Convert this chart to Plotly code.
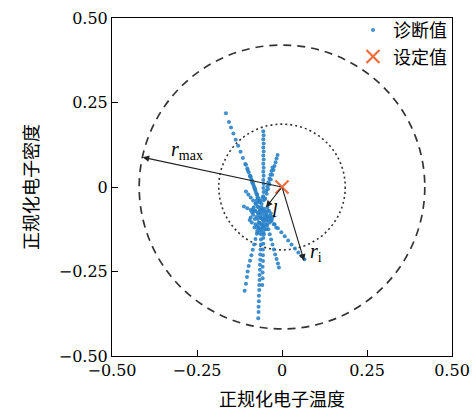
import plotly.graph_objects as go

# ---- data ----
ray_ul_x = [-0.165, -0.156, -0.150, -0.143, -0.136, -0.129, -0.122, -0.115, -0.108, -0.101, -0.094, -0.087, -0.080, -0.073, -0.067]
ray_ul_y = [0.218, 0.192, 0.176, 0.158, 0.140, 0.122, 0.104, 0.086, 0.068, 0.050, 0.032, 0.014, -0.004, -0.022, -0.040]

ray_up_x = [-0.055, -0.054, -0.055, -0.054, -0.055, -0.054, -0.055, -0.054, -0.055, -0.054, -0.055, -0.054, -0.055, -0.054, -0.055, -0.054, -0.055, -0.054]
ray_up_y = [0.165, 0.153, 0.141, 0.129, 0.117, 0.105, 0.093, 0.081, 0.069, 0.057, 0.045, 0.033, 0.021, 0.009, -0.003, -0.015, -0.027, -0.039]

ray_ur1_x = [-0.013, -0.016, -0.019, -0.022, -0.025, -0.029, -0.033, -0.037, -0.041, -0.045]
ray_ur1_y = [0.095, 0.084, 0.073, 0.062, 0.050, 0.036, 0.022, 0.008, -0.006, -0.020]

ray_ur2_x = [-0.028, -0.031, -0.034, -0.037, -0.040, -0.043, -0.046]
ray_ur2_y = [0.058, 0.047, 0.036, 0.025, 0.014, 0.002, -0.010]

ray_ul2_x = [-0.106, -0.102, -0.098, -0.094, -0.090, -0.086, -0.082, -0.078, -0.074, -0.070, -0.066]
ray_ul2_y = [0.066, 0.055, 0.044, 0.033, 0.022, 0.011, 0.000, -0.011, -0.022, -0.033, -0.044]

ray_ul3_x = [-0.092, -0.088, -0.084, -0.080, -0.076, -0.072, -0.068]
ray_ul3_y = [0.030, 0.018, 0.006, -0.006, -0.018, -0.030, -0.042]

ray_l_x = [-0.106, -0.099, -0.092, -0.085, -0.078, -0.071, -0.064]
ray_l_y = [-0.013, -0.022, -0.031, -0.040, -0.049, -0.058, -0.067]

ray_l2_x = [-0.112, -0.102, -0.092, -0.082, -0.072]
ray_l2_y = [-0.058, -0.063, -0.068, -0.072, -0.076]

ray_dl_x = [-0.062, -0.066, -0.070, -0.074, -0.078, -0.082, -0.086, -0.090, -0.094, -0.098, -0.101, -0.103, -0.106, -0.110]
ray_dl_y = [-0.090, -0.106, -0.122, -0.138, -0.154, -0.170, -0.186, -0.202, -0.218, -0.234, -0.250, -0.266, -0.286, -0.307]

ray_d_x = [-0.058, -0.059, -0.060, -0.061, -0.062, -0.062, -0.063, -0.064, -0.064, -0.065, -0.065, -0.066, -0.066, -0.067, -0.067, -0.068, -0.068, -0.069, -0.069, -0.070]
ray_d_y = [-0.095, -0.110, -0.125, -0.140, -0.155, -0.170, -0.185, -0.200, -0.215, -0.230, -0.245, -0.260, -0.275, -0.290, -0.305, -0.322, -0.338, -0.354, -0.370, -0.388]

ray_d2_x = [-0.054, -0.054, -0.055, -0.055, -0.055, -0.056, -0.056, -0.056, -0.057, -0.057, -0.057, -0.058]
ray_d2_y = [-0.100, -0.117, -0.134, -0.151, -0.168, -0.185, -0.202, -0.219, -0.236, -0.253, -0.270, -0.290]

ray_dr_x = [-0.048, -0.044, -0.040, -0.036, -0.032, -0.028, -0.024, -0.020, -0.016, -0.012, -0.009]
ray_dr_y = [-0.095, -0.110, -0.125, -0.140, -0.155, -0.170, -0.185, -0.200, -0.213, -0.226, -0.238]

ray_dr2_x = [-0.042, -0.032, -0.022, -0.012, -0.002, 0.008, 0.018, 0.028, 0.038, 0.048, 0.057, 0.066]
ray_dr2_y = [-0.088, -0.099, -0.110, -0.122, -0.134, -0.146, -0.158, -0.170, -0.182, -0.194, -0.204, -0.214]

ray_r_x = [-0.045, -0.038, -0.031, -0.024, -0.017]
ray_r_y = [-0.080, -0.090, -0.100, -0.110, -0.120]

blob_x = [-0.060, -0.052, -0.065, -0.048, -0.058, -0.070, -0.045, -0.062, -0.055, -0.068,
          -0.050, -0.075, -0.040, -0.058, -0.063, -0.053, -0.072, -0.047, -0.060, -0.066,
          -0.080, -0.085, -0.035, -0.030, -0.078, -0.042, -0.070, -0.050, -0.088, -0.092,
          -0.083, -0.076, -0.064, -0.057, -0.049, -0.043, -0.038, -0.033, -0.027, -0.069,
          -0.073, -0.061, -0.054, -0.046, -0.081, -0.089, -0.095, -0.066, -0.059, -0.052,
          -0.044, -0.036, -0.078, -0.071, -0.064, -0.057, -0.050, -0.085, -0.075, -0.068]
blob_y = [-0.060, -0.065, -0.070, -0.075, -0.080, -0.078, -0.088, -0.092, -0.100, -0.105,
          -0.110, -0.088, -0.098, -0.118, -0.128, -0.140, -0.115, -0.125, -0.050, -0.045,
          -0.095, -0.082, -0.085, -0.095, -0.110, -0.070, -0.060, -0.085, -0.075, -0.090,
          -0.060, -0.050, -0.040, -0.030, -0.035, -0.060, -0.070, -0.078, -0.088, -0.120,
          -0.130, -0.110, -0.072, -0.100, -0.120, -0.105, -0.098, -0.085, -0.065, -0.090,
          -0.115, -0.105, -0.070, -0.095, -0.075, -0.115, -0.125, -0.065, -0.040, -0.135]

set_x = [0.0]
set_y = [0.0]

r_max = 0.42      # outer dashed circle radius
r_in = 0.186      # inner dotted circle radius
rmax_tip = (-0.41, 0.088)
ri_tip = (0.065, -0.218)
l_tip = (-0.047, -0.060)

tick_vals = [-0.5, -0.25, 0, 0.25, 0.5]
tick_text = ["−0.50", "−0.25", "0", "0.25", "0.50"]

diag_x = (ray_ul_x + ray_up_x + ray_ur1_x + ray_ur2_x + ray_ul2_x + ray_ul3_x + ray_l_x + ray_l2_x
          + ray_dl_x + ray_d_x + ray_d2_x + ray_dr_x + ray_dr2_x + ray_r_x + blob_x)
diag_y = (ray_ul_y + ray_up_y + ray_ur1_y + ray_ur2_y + ray_ul2_y + ray_ul3_y + ray_l_y + ray_l2_y
          + ray_dl_y + ray_d_y + ray_d2_y + ray_dr_y + ray_dr2_y + ray_r_y + blob_y)

BLUE = "#2a82c9"
ORANGE = "#ef6c3a"
TICKF = "DejaVu Serif"
SERIF2 = "Liberation Serif"
CJK = "Noto Sans CJK SC"

fig = go.Figure()
fig.add_trace(go.Scatter(x=diag_x, y=diag_y, mode="markers", name="诊断值",
                         marker=dict(color=BLUE, size=4, symbol="circle", opacity=0.9,
                                     line=dict(width=0))))
fig.add_trace(go.Scatter(x=set_x, y=set_y, mode="markers", name="设定值",
                         marker=dict(symbol="x-thin", size=13, color=ORANGE,
                                     line=dict(width=2.2, color=ORANGE))))

# circles
fig.add_shape(type="circle", xref="x", yref="y", x0=-r_max, y0=-r_max, x1=r_max, y1=r_max,
              line=dict(color="#333333", width=1.7, dash="8px,6px"), layer="below")
fig.add_shape(type="circle", xref="x", yref="y", x0=-r_in, y0=-r_in, x1=r_in, y1=r_in,
              line=dict(color="#333333", width=1.6, dash="2px,3px"), layer="below")

# arrows
for tip in (rmax_tip, ri_tip, l_tip):
    fig.add_annotation(x=tip[0], y=tip[1], ax=set_x[0], ay=set_y[0], xref="x", yref="y",
                       axref="x", ayref="y", showarrow=True, arrowhead=2, arrowsize=1.2,
                       arrowwidth=1.1, arrowcolor="#222222", text="")

fig.add_annotation(x=-0.28, y=0.108, xref="x", yref="y", showarrow=False,
                   text="<i>r</i><sub>max</sub>", font=dict(family=SERIF2, size=20, color="black"))
fig.add_annotation(x=0.10, y=-0.195, xref="x", yref="y", showarrow=False,
                   text="<i>r</i><sub>i</sub>", font=dict(family=SERIF2, size=20, color="black"))
fig.add_annotation(x=-0.022, y=-0.068, xref="x", yref="y", showarrow=False,
                   text="<i>l</i>", font=dict(family=SERIF2, size=20, color="black"))

axis_common = dict(range=[-0.5, 0.5], tickvals=tick_vals, ticktext=tick_text,
                   ticks="inside", ticklen=6, tickwidth=1, tickcolor="black",
                   showline=True, linecolor="black", linewidth=1, mirror=True,
                   showgrid=False, zeroline=False, automargin=False,
                   tickfont=dict(family=TICKF, size=16, color="black"))

fig.update_xaxes(**axis_common, title=dict(text="正规化电子温度",
                                           font=dict(family=CJK, size=18, color="black")))
fig.update_yaxes(**axis_common, title=dict(text="正规化电子密度",
                                           font=dict(family=CJK, size=18, color="black")))

fig.update_layout(
    width=476, height=411,
    margin=dict(l=112, r=24, t=15, b=55),
    plot_bgcolor="white", paper_bgcolor="white",
    legend=dict(x=1.0, y=1.018, xanchor="right", yanchor="top", bgcolor="rgba(0,0,0,0)",
                font=dict(family=CJK, size=18, color="black"), tracegroupgap=0),
    showlegend=True,
)

fig.write_html("out.html")
